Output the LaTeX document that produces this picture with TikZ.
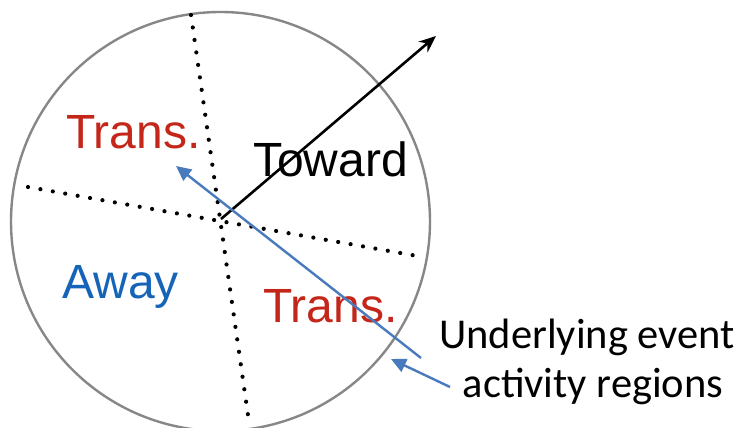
\documentclass[tikz,border=0pt]{standalone}
\usepackage{fontspec}
\setmainfont{Liberation Sans}
\newfontfamily\calib{Carlito}
\usetikzlibrary{arrows.meta}
\definecolor{transred}{RGB}{196,38,26}
\definecolor{awayblue}{RGB}{22,100,184}
\definecolor{arrowblue}{RGB}{74,122,190}
\definecolor{ringgray}{RGB}{135,135,135}
\tikzset{
  region/.style={font=\fontsize{48}{50}\selectfont, inner sep=0pt, anchor=base west},
  divider/.style={line width=4.2pt, line cap=round, dash pattern=on 0pt off 12.6pt},
  bluearrow/.style={arrowblue, line width=2.4pt, -{Triangle[length=15pt,width=14pt]}},
  caption/.style={font=\calib\fontsize{42.5}{46}\selectfont, inner sep=0pt, anchor=base}
}
\begin{document}
\begin{tikzpicture}[x=1pt,y=-1pt]
\useasboundingbox (0,0) rectangle (740,428);
\fill[white] (0,0) rectangle (740,428);
\coordinate (c) at (220.5,221.5);
\draw[ringgray, line width=2.4pt] (c) circle (209.5pt);
\coordinate (v1) at (191,15);
\coordinate (v2) at (248,415);
\coordinate (h1) at (28,187);
\coordinate (h2) at (423,257);
\draw[divider] (v1) -- (v2);
\draw[divider] (h1) -- (h2);
\node[region, text=transred] (t1) at (66,148) {Trans.};
\node[region] (tw) at (253,176) {Toward};
\node[region, text=awayblue] (aw) at (62,298) {Away};
\node[region, text=transred] (t2) at (263,322) {Trans.};
\coordinate (o) at (221,219);
\coordinate (tip) at (436,36);
\draw[line width=2.6pt, -{Stealth[length=17pt,width=14pt]}] (o) -- (tip);
\node[caption] (cap1) at (587,348) {Underlying event};
\node[caption] (cap2) at (593,397) {activity regions};
\coordinate (a1s) at (421,358);
\coordinate (a1e) at (176,166);
\coordinate (a2s) at (450,387);
\coordinate (a2e) at (391,359);
\draw[bluearrow] (a1s) -- (a1e);
\draw[bluearrow] (a2s) -- (a2e);
\end{tikzpicture}
\end{document}
